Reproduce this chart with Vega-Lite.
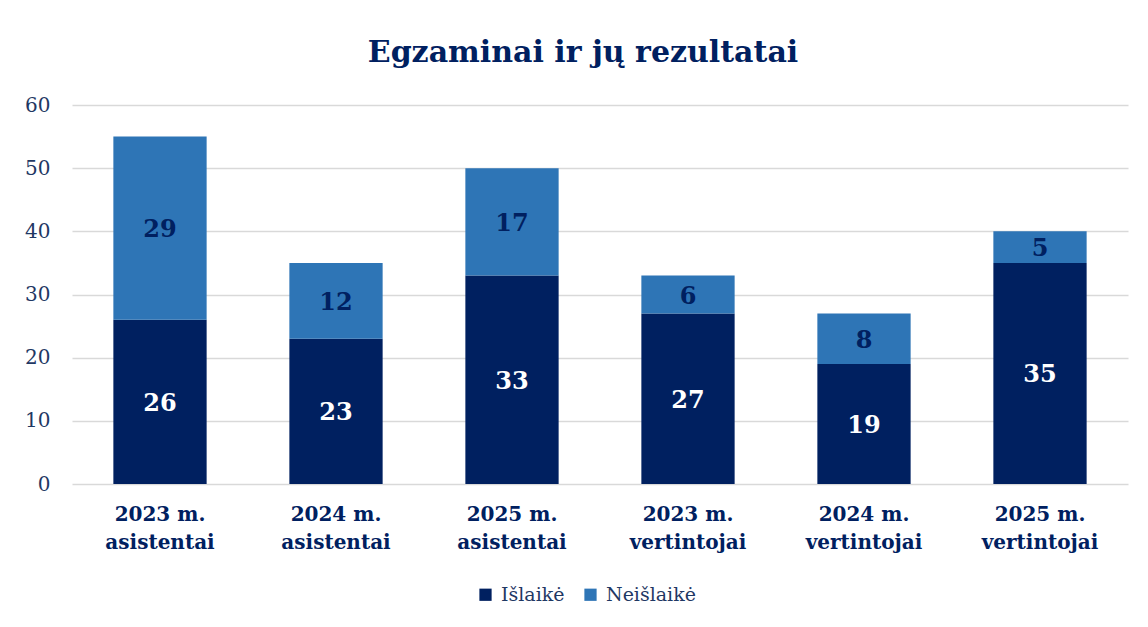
{
  "$schema": "https://vega.github.io/schema/vega-lite/v6.json",
  "width": 1056,
  "height": 379,
  "autosize": {"type": "none"},
  "padding": {"left": 72, "top": 105, "right": 20, "bottom": 143},
  "background": "white",
  "title": {
    "text": "Egzaminai ir jų rezultatai",
    "font": "DejaVu Serif",
    "fontSize": 30,
    "fontWeight": "bold",
    "color": "#002060",
    "anchor": "middle",
    "dx": -17,
    "offset": 27
  },
  "data": {
    "values": [
      {"kategorija": "2023 m.\nasistentai", "rezultatas": "Išlaikė", "skaicius": 26, "eile": 1},
      {"kategorija": "2023 m.\nasistentai", "rezultatas": "Neišlaikė", "skaicius": 29, "eile": 2},
      {"kategorija": "2024 m.\nasistentai", "rezultatas": "Išlaikė", "skaicius": 23, "eile": 1},
      {"kategorija": "2024 m.\nasistentai", "rezultatas": "Neišlaikė", "skaicius": 12, "eile": 2},
      {"kategorija": "2025 m.\nasistentai", "rezultatas": "Išlaikė", "skaicius": 33, "eile": 1},
      {"kategorija": "2025 m.\nasistentai", "rezultatas": "Neišlaikė", "skaicius": 17, "eile": 2},
      {"kategorija": "2023 m.\nvertintojai", "rezultatas": "Išlaikė", "skaicius": 27, "eile": 1},
      {"kategorija": "2023 m.\nvertintojai", "rezultatas": "Neišlaikė", "skaicius": 6, "eile": 2},
      {"kategorija": "2024 m.\nvertintojai", "rezultatas": "Išlaikė", "skaicius": 19, "eile": 1},
      {"kategorija": "2024 m.\nvertintojai", "rezultatas": "Neišlaikė", "skaicius": 8, "eile": 2},
      {"kategorija": "2025 m.\nvertintojai", "rezultatas": "Išlaikė", "skaicius": 35, "eile": 1},
      {"kategorija": "2025 m.\nvertintojai", "rezultatas": "Neišlaikė", "skaicius": 5, "eile": 2}
    ]
  },
  "transform": [
    {"stack": "skaicius", "groupby": ["kategorija"], "sort": [{"field": "eile"}], "as": ["y0", "y1"]},
    {"calculate": "(datum.y0 + datum.y1) / 2", "as": "vidurys"}
  ],
  "encoding": {
    "x": {
      "field": "kategorija",
      "type": "nominal",
      "sort": null,
      "title": null,
      "scale": {"paddingInner": 0.47, "paddingOuter": 0.235},
      "axis": {
        "labelExpr": "split(datum.label, '\\n')",
        "labelAngle": 0,
        "labelFont": "DejaVu Serif",
        "labelFontSize": 20,
        "labelFontWeight": "bold",
        "labelColor": "#002060",
        "labelLineHeight": 28,
        "labelPadding": 20,
        "labelBaseline": "top",
        "ticks": false,
        "domain": false,
        "grid": false
      }
    }
  },
  "layer": [
    {
      "mark": {"type": "bar"},
      "encoding": {
        "y": {
          "field": "y1",
          "type": "quantitative",
          "title": null,
          "scale": {"domain": [0, 60]},
          "axis": {
            "values": [0, 10, 20, 30, 40, 50, 60],
            "labelFont": "DejaVu Serif",
            "labelFontSize": 20,
            "labelColor": "#1F3864",
            "labelPadding": 22,
            "ticks": false,
            "domain": false,
            "gridColor": "#D9D9D9",
            "gridWidth": 1.5
          }
        },
        "y2": {"field": "y0"},
        "color": {
          "field": "rezultatas",
          "type": "nominal",
          "scale": {"domain": ["Išlaikė", "Neišlaikė"], "range": ["#002060", "#2E75B6"]},
          "legend": {
            "title": null,
            "orient": "none",
            "direction": "horizontal",
            "legendX": 404,
            "legendY": 480,
            "symbolType": "square",
            "symbolSize": 150,
            "symbolStrokeWidth": 0,
            "labelFont": "DejaVu Serif",
            "labelFontSize": 19,
            "labelColor": "#1F3864",
            "columnPadding": 16,
            "labelOffset": 6
          }
        }
      }
    },
    {
      "mark": {"type": "text", "font": "DejaVu Serif", "fontSize": 24, "fontWeight": "bold", "baseline": "middle", "dy": 2},
      "encoding": {
        "y": {"field": "vidurys", "type": "quantitative"},
        "text": {"field": "skaicius", "type": "quantitative"},
        "color": {
          "condition": {"test": "datum.rezultatas === 'Išlaikė'", "value": "#FFFFFF"},
          "value": "#002060"
        }
      }
    }
  ],
  "config": {"view": {"stroke": null}}
}
